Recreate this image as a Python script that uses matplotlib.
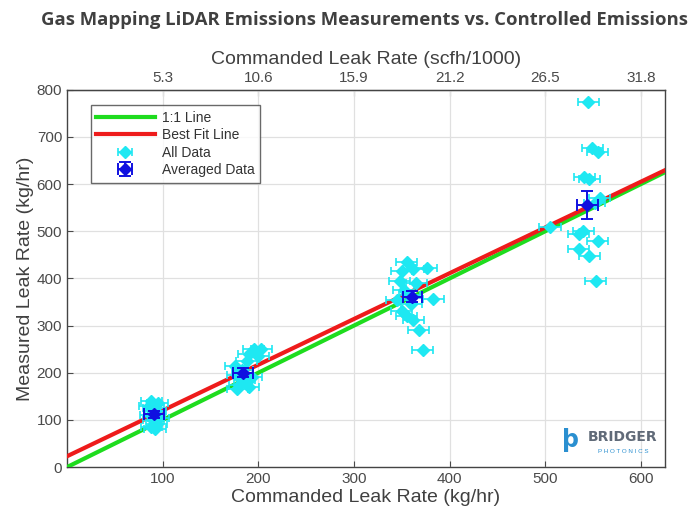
import matplotlib
matplotlib.use("Agg")
import matplotlib.pyplot as plt
import numpy as np

# ---- data ----
all_x = [88, 95, 90, 93, 87, 96, 90, 94, 88, 92, 86, 91,
         195, 203, 190, 200, 188, 183, 178, 186, 180, 190, 178, 193, 176,
         355, 350, 362, 376, 348, 365, 352, 358, 345, 383, 360, 350, 355, 362, 368, 372,
         545, 549, 555, 541, 546, 552, 505, 540, 535, 555, 535, 546, 553, 557]
all_y = [140, 135, 125, 118, 110, 105, 100, 92, 85, 80, 130, 112,
         250, 250, 240, 235, 225, 205, 195, 185, 175, 170, 165, 190, 215,
         435, 415, 420, 422, 395, 390, 375, 365, 355, 357, 345, 330, 320, 312, 290, 248,
         775, 677, 668, 615, 610, 560, 510, 500, 495, 480, 462, 447, 395, 570]
all_xerr = 11

avg_x = [91, 184, 361, 544]
avg_y = [112, 200, 361, 556]
avg_xerr = [10, 10, 10, 11]
avg_yerr = [8, 10, 12, 30]

fit_slope = 0.97
fit_intercept = 23

line_x = [0, 625]

xticks = [100, 200, 300, 400, 500, 600]
yticks = [0, 100, 200, 300, 400, 500, 600, 700, 800]
top_labels = ["5.3", "10.6", "15.9", "21.2", "26.5", "31.8"]

# ---- plot ----
plt.rcParams['font.family'] = ['Liberation Sans', 'DejaVu Sans']
fig = plt.figure(figsize=(6.91, 5.19), dpi=100)
ax = fig.add_axes([0.097, 0.100, 0.865, 0.727])

txtc = '#404040'
tickc = '#4A4A4A'

lx = np.array(line_x, dtype=float)
ax.plot(lx, lx, color='#1EDC1E', lw=3, label='1:1 Line', zorder=3)
ax.plot(lx, fit_slope * lx + fit_intercept, color='#EE1B1B', lw=3, label='Best Fit Line', zorder=3)
ax.errorbar(all_x, all_y, xerr=all_xerr, fmt='D', color='#1EE8F2', ms=6,
            capsize=3, elinewidth=1.2, capthick=1.2, label='All Data', zorder=4)
ax.errorbar(avg_x, avg_y, xerr=avg_xerr, yerr=avg_yerr, fmt='D', color='#1010E0',
            ms=6, capsize=4, elinewidth=1.4, capthick=1.4, label='Averaged Data', zorder=5)

ax.set_xlim(0, 625)
ax.set_ylim(0, 800)
ax.set_xticks(xticks)
ax.set_yticks(yticks)
ax.grid(True, color='#E0E0E0', lw=0.9)
ax.set_axisbelow(True)
ax.tick_params(direction='in', colors=tickc, labelsize=11, length=4, top=False, right=False)
for s in ax.spines.values():
    s.set_color('#444444')
    s.set_linewidth(1.0)

ax.set_xlabel('Commanded Leak Rate (kg/hr)', fontsize=14, color=txtc, labelpad=2)
ax.set_ylabel('Measured Leak Rate (kg/hr)', fontsize=14, color=txtc, labelpad=2)

sec = ax.secondary_xaxis('top')
sec.set_xticks(xticks)
sec.set_xticklabels(top_labels)
sec.tick_params(direction='in', colors=tickc, labelsize=11, length=4)
sec.set_xlabel('Commanded Leak Rate (scfh/1000)', fontsize=14, color=txtc, labelpad=5)

leg = ax.legend(loc='upper left', bbox_to_anchor=(0.028, 0.978), fontsize=10,
                frameon=True, fancybox=False, edgecolor='#444444',
                handlelength=4.2, borderpad=0.4, labelspacing=0.25, handletextpad=0.5)
leg.get_frame().set_linewidth(1.0)
for t in leg.get_texts():
    t.set_color('#333333')

fig.text(0.528, 0.962, 'Gas Mapping LiDAR Emissions Measurements vs. Controlled Emissions',
         ha='center', va='center', fontsize=13.3, fontweight='bold', color='#404040',
         family=['Open Sans', 'DejaVu Sans'])

# logo
ax.text(0.842, 0.072, 'ϸ', transform=ax.transAxes, fontsize=17, color='#2A8FD0',
        ha='center', va='center', fontweight='bold', family=['DejaVu Sans'])
ax.text(0.930, 0.080, 'BRIDGER', transform=ax.transAxes, fontsize=10, color='#606A78',
        ha='center', va='center', fontweight='bold', family=['DejaVu Sans'])
ax.text(0.930, 0.042, 'P H O T O N I C S', transform=ax.transAxes, fontsize=4.5,
        color='#2A8FD0', ha='center', va='center')

fig.savefig('out.png', dpi=100)
